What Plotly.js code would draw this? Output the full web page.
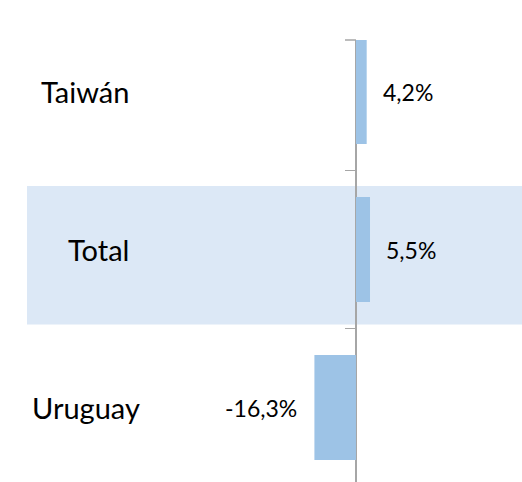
<!DOCTYPE html>
<html>
<head>
<meta charset="utf-8">
<script src="https://cdn.plot.ly/plotly-3.0.1.min.js"></script>
<style>html,body{margin:0;padding:0;background:#fff;}#chart{width:522px;height:482px;}</style>
</head>
<body>
<div id="chart"></div>
<script>
const categories = ["Taiwán", "Total", "Uruguay"];
const values = [4.2, 5.5, -16.3];
const valueLabels = ["4,2%", "5,5%", "-16,3%"];
const highlightCategory = "Total";

const FONT = "Lato, 'Open Sans', sans-serif";
const labelLeft = [39, 66, 30];

const annotations = [];
categories.forEach((c, i) => {
  annotations.push({
    xref: "paper", x: 0, yref: "y", y: c,
    xanchor: "left", xshift: labelLeft[i] - 27,
    text: c, showarrow: false,
    font: {family: FONT, size: 29, color: "#000"}
  });
  const v = values[i];
  annotations.push({
    xref: "x", x: v, yref: "y", y: c,
    xanchor: v >= 0 ? "left" : "right",
    xshift: v >= 0 ? 14 : -15,
    text: valueLabels[i], showarrow: false,
    font: {family: FONT, size: 23, color: "#000"}
  });
});

const hi = categories.indexOf(highlightCategory);
const shapes = [
  {type: "rect", layer: "below", xref: "paper", x0: 0, x1: 1,
   yref: "y", y0: hi - 0.402, y1: hi + 0.475,
   fillcolor: "#dce8f6", line: {width: 0}},
  {type: "line", xref: "x", xsizemode: "pixel", xanchor: 0, x0: -11, x1: 0,
   yref: "paper", y0: 1, y1: 1, line: {color: "#a6a6a6", width: 1.5}}
];

const trace = {
  type: "bar", orientation: "h",
  y: categories, x: values,
  marker: {color: "#9dc3e6"},
  width: 0.665,
  hoverinfo: "none"
};

const layout = {
  width: 522, height: 482,
  margin: {l: 27, r: 0, t: 40, b: 0},
  paper_bgcolor: "#fff", plot_bgcolor: "rgba(0,0,0,0)",
  showlegend: false,
  xaxis: {range: [-129, 65.1], showgrid: false, zeroline: true,
          zerolinecolor: "#a6a6a6", zerolinewidth: 1.5,
          showticklabels: false, ticks: "", showline: false, fixedrange: true},
  yaxis: {type: "category", range: [2.4715, -0.326],
          anchor: "free", position: 129 / 194.1,
          showgrid: false, zeroline: false, showline: false,
          ticks: "outside", tickson: "boundaries", ticklen: 11,
          tickcolor: "#a6a6a6", tickwidth: 1.5,
          showticklabels: false, fixedrange: true},
  annotations: annotations,
  shapes: shapes
};

Plotly.newPlot("chart", [trace], layout, {displayModeBar: false, staticPlot: true});
</script>
</body>
</html>
